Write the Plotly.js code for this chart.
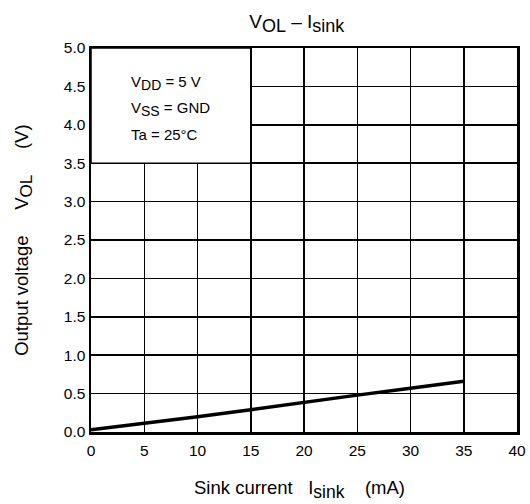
<!DOCTYPE html>
<html>
<head>
<meta charset="utf-8">
<script src="https://cdn.plot.ly/plotly-3.0.1.min.js"></script>
<style>html,body{margin:0;padding:0;background:#fff;}#chart{width:530px;height:504px;}</style>
</head>
<body>
<div id="chart"></div>
<script>
const sinkCurrent = [0, 5, 10, 15, 20, 25, 30, 35];
const outputVoltage = [0.03, 0.11, 0.2, 0.29, 0.39, 0.48, 0.57, 0.66];
const xTicks = [0, 5, 10, 15, 20, 25, 30, 35, 40];
const yTicks = [0, 0.5, 1, 1.5, 2, 2.5, 3, 3.5, 4, 4.5, 5];
const yTickLabels = ["0.0","0.5","1.0","1.5","2.0","2.5","3.0","3.5","4.0","4.5","5.0"];
const conditions = ["V<sub><span style=\"font-size:14px\">DD</span></sub> = 5 V",
                    "V<sub><span style=\"font-size:14px\">SS</span></sub> = GND",
                    "Ta = 25°C"];
const conditionY = [4.54, 4.2, 3.87];

const font = {family: "Liberation Sans, Arial, sans-serif", color: "#000"};
const sub = (t, s) => "<sub><span style=\"font-size:" + s + "px\">" + t + "</span></sub>";

const trace = {
  x: sinkCurrent, y: outputVoltage, type: "scatter", mode: "lines",
  line: {color: "#000", width: 3.5}, hoverinfo: "skip", cliponaxis: true
};

const annotations = conditions.map((t, i) => ({
  text: t, x: 3.6, y: conditionY[i], xref: "x", yref: "y",
  xanchor: "left", yanchor: "middle", showarrow: false,
  font: Object.assign({}, font, {size: 15})
}));
annotations.push({
  text: "Output voltage     V" + sub("OL", 17) + "     (V)", textangle: -90,
  xref: "paper", yref: "paper", x: -0.16, y: 0.5, xanchor: "center", yanchor: "middle",
  showarrow: false, font: Object.assign({}, font, {size: 18.5})
});
annotations.push({
  text: "Sink current   I" + sub("sink", 17.5) + "    (mA)",
  xref: "paper", yref: "paper", x: 0.489, y: -0.151, xanchor: "center", yanchor: "middle",
  showarrow: false, font: Object.assign({}, font, {size: 18.5})
});

const layout = {
  width: 530, height: 504,
  margin: {l: 91, r: 13, t: 48, b: 72},
  paper_bgcolor: "#fff", plot_bgcolor: "#fff",
  showlegend: false,
  font: Object.assign({}, font, {size: 15.5}),
  title: {text: "V" + sub("OL", 18) + " – I" + sub("sink", 18),
          x: 0.56, xanchor: "center", y: 0.958, yanchor: "middle",
          font: Object.assign({}, font, {size: 19})},
  xaxis: {
    range: [0, 40], tickvals: xTicks, ticktext: xTicks.map(String),
    showgrid: true, gridcolor: "#000", gridwidth: 1.5,
    showline: true, linecolor: "#000", linewidth: 2.5, mirror: true,
    zeroline: false, ticks: "", ticklabelstandoff: 3,
    tickfont: Object.assign({}, font, {size: 15.5}), fixedrange: true
  },
  yaxis: {
    range: [0, 5], tickvals: yTicks, ticktext: yTickLabels,
    showgrid: true, gridcolor: "#000", gridwidth: 1.5,
    showline: true, linecolor: "#000", linewidth: 2.5, mirror: true,
    zeroline: false, ticks: "",
    tickfont: Object.assign({}, font, {size: 15.5}), fixedrange: true
  },
  shapes: [{
    type: "rect", xref: "x", yref: "y", x0: 0, x1: 15, y0: 3.5, y1: 5,
    fillcolor: "#fff", line: {color: "#000", width: 1.5}, layer: "above"
  }],
  annotations: annotations
};

Plotly.newPlot("chart", [trace], layout, {displayModeBar: false, staticPlot: true});
</script>
</body>
</html>
